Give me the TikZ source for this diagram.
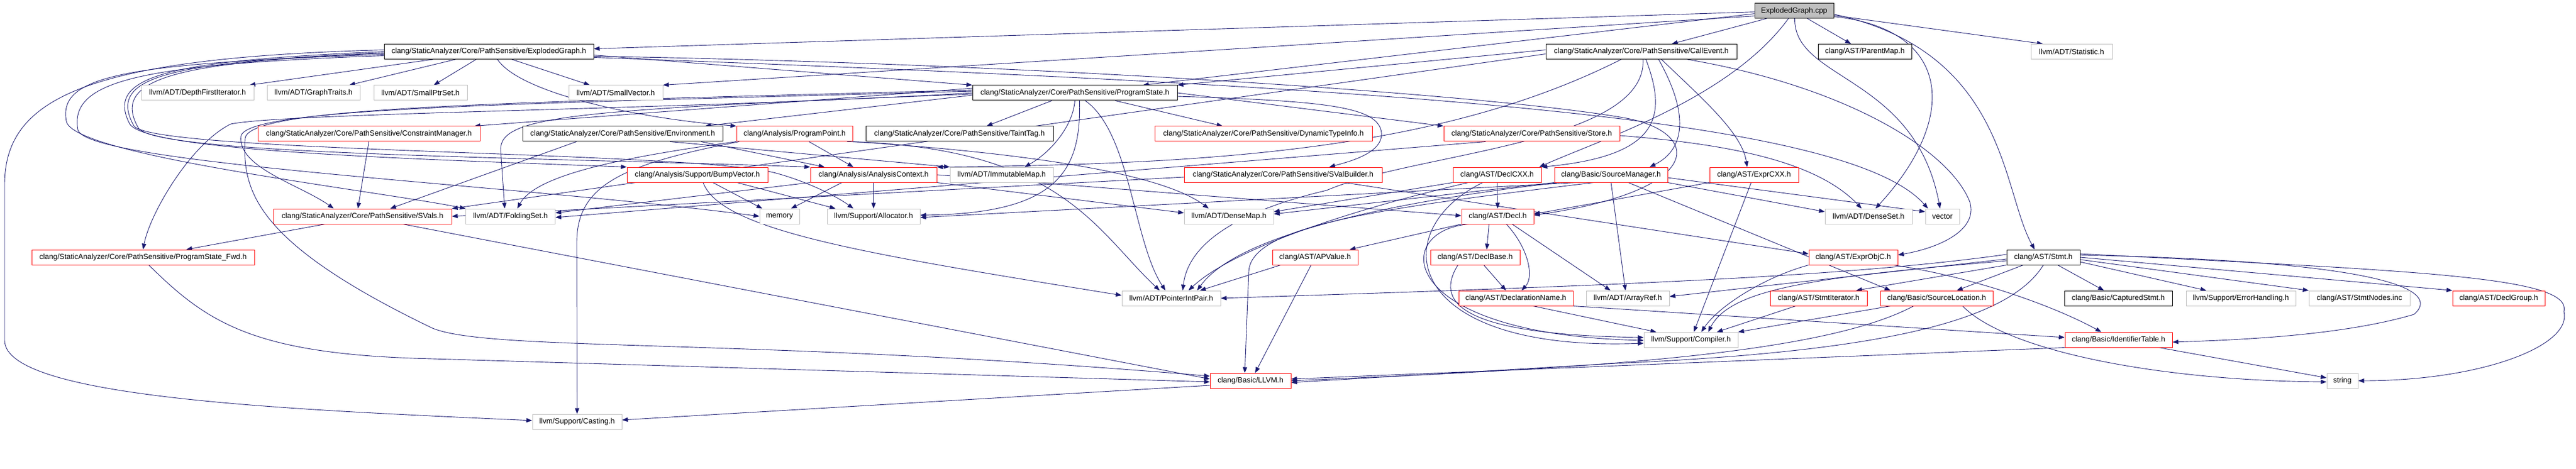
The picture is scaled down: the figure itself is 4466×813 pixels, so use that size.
\documentclass[tikz,border=0pt]{standalone}
\usepackage{fontspec}
\setmainfont{Liberation Sans}
\usetikzlibrary{arrows.meta,backgrounds}
\definecolor{edgeblue}{RGB}{25,25,112}
\definecolor{boxgrey}{RGB}{191,191,191}
\newcommand{\boxfont}{\fontsize{13}{15}\selectfont}
\tikzset{
  hdr/.style={draw=black,fill=white,line width=1pt,minimum height=26pt,inner sep=0pt,font=\boxfont},
  ext/.style={hdr,draw=boxgrey},
  trunc/.style={hdr,draw=red},
  root/.style={hdr,fill=boxgrey},
  inc/.style={draw=edgeblue,line width=0.9pt,-{Triangle[length=10pt,width=7.5pt]}},
}
\begin{document}
\begin{tikzpicture}[x=1pt,y=-1pt]
  \useasboundingbox (0,0) rectangle (4466,813);

  \node[root, minimum width=137pt](cpp)    at (3110.5,18.7) {ExplodedGraph.cpp};

  \node[hdr,  minimum width=363pt](egh)    at (847.5,89.5)  {clang/StaticAnalyzer/Core/PathSensitive/ExplodedGraph.h};
  \node[hdr,  minimum width=331pt](callev) at (2845.5,89.5) {clang/StaticAnalyzer/Core/PathSensitive/CallEvent.h};
  \node[hdr,  minimum width=162pt](pmap)   at (3233,89.5)   {clang/AST/ParentMap.h};
  \node[ext,  minimum width=141pt](stat)   at (3591.5,89.5) {llvm/ADT/Statistic.h};

  \node[ext,  minimum width=195pt](dfi)    at (342.5,161)   {llvm/ADT/DepthFirstIterator.h};
  \node[ext,  minimum width=161pt](gtr)    at (543.5,161)   {llvm/ADT/GraphTraits.h};
  \node[ext,  minimum width=162pt](sps)    at (729,161)     {llvm/ADT/SmallPtrSet.h};
  \node[ext,  minimum width=163pt](svec)   at (1067.5,161)  {llvm/ADT/SmallVector.h};
  \node[hdr,  minimum width=355pt](pst)    at (1863.5,161)  {clang/StaticAnalyzer/Core/PathSensitive/ProgramState.h};

  \node[trunc,minimum width=385pt](cmgr)   at (639.5,232)   {clang/StaticAnalyzer/Core/PathSensitive/ConstraintManager.h};
  \node[hdr,  minimum width=347pt](env)    at (1079.5,232)  {clang/StaticAnalyzer/Core/PathSensitive/Environment.h};
  \node[trunc,minimum width=201pt](ppt)    at (1377.5,232)  {clang/Analysis/ProgramPoint.h};
  \node[hdr,  minimum width=325pt](taint)  at (1663.5,232)  {clang/StaticAnalyzer/Core/PathSensitive/TaintTag.h};
  \node[trunc,minimum width=377pt](dti)    at (2190.5,232)  {clang/StaticAnalyzer/Core/PathSensitive/DynamicTypeInfo.h};
  \node[trunc,minimum width=305pt](store)  at (2655.5,232)  {clang/StaticAnalyzer/Core/PathSensitive/Store.h};

  \node[trunc,minimum width=244pt](bump)   at (1209,303)    {clang/Analysis/Support/BumpVector.h};
  \node[trunc,minimum width=219pt](actx)   at (1514.5,303)  {clang/Analysis/AnalysisContext.h};
  \node[ext,  minimum width=179pt](imap)   at (1736.5,303)  {llvm/ADT/ImmutableMap.h};
  \node[trunc,minimum width=343pt](svb)    at (2224.5,303)  {clang/StaticAnalyzer/Core/PathSensitive/SValBuilder.h};
  \node[trunc,minimum width=153pt](dcxx)   at (2595.5,303)  {clang/AST/DeclCXX.h};
  \node[trunc,minimum width=196pt](srcm)   at (2793,303)    {clang/Basic/SourceManager.h};
  \node[trunc,minimum width=154pt](ecxx)   at (3041,303)    {clang/AST/ExprCXX.h};

  \node[trunc,minimum width=309pt](svals)  at (628.5,375)   {clang/StaticAnalyzer/Core/PathSensitive/SVals.h};
  \node[ext,  minimum width=155pt](fset)   at (885,375)     {llvm/ADT/FoldingSet.h};
  \node[ext,  minimum width=69pt] (mem)    at (1351.5,375)  {memory};
  \node[ext,  minimum width=161pt](alloc)  at (1514.5,375)  {llvm/Support/Allocator.h};
  \node[ext,  minimum width=155pt](dmap)   at (2130.5,375)  {llvm/ADT/DenseMap.h};
  \node[trunc,minimum width=125pt](decl)   at (2596.5,375)  {clang/AST/Decl.h};
  \node[ext,  minimum width=151pt](dset)   at (3239.5,375)  {llvm/ADT/DenseSet.h};
  \node[ext,  minimum width=59pt] (vec)    at (3367.5,375)  {vector};

  \node[trunc,minimum width=386pt](psfwd)  at (248,446)     {clang/StaticAnalyzer/Core/PathSensitive/ProgramState\_Fwd.h};
  \node[trunc,minimum width=148pt](apv)    at (2280,446)    {clang/AST/APValue.h};
  \node[trunc,minimum width=155pt](dbase)  at (2557.5,446)  {clang/AST/DeclBase.h};
  \node[trunc,minimum width=154pt](eobjc)  at (3213,446)    {clang/AST/ExprObjC.h};
  \node[hdr,  minimum width=127pt](stmt)   at (3542.5,446)  {clang/AST/Stmt.h};

  \node[ext,  minimum width=171pt](pip)    at (2030.5,517)  {llvm/ADT/PointerIntPair.h};
  \node[trunc,minimum width=198pt](dname)  at (2628,517)    {clang/AST/DeclarationName.h};
  \node[ext,  minimum width=144pt](aref)   at (2822,517)    {llvm/ADT/ArrayRef.h};
  \node[trunc,minimum width=168pt](siter)  at (3153,517)    {clang/AST/StmtIterator.h};
  \node[trunc,minimum width=195pt](sloc)   at (3357.5,517)  {clang/Basic/SourceLocation.h};
  \node[hdr,  minimum width=187pt](capt)   at (3672.5,517)  {clang/Basic/CapturedStmt.h};
  \node[ext,  minimum width=190pt](errh)   at (3885,517)    {llvm/Support/ErrorHandling.h};
  \node[ext,  minimum width=175pt](snodes) at (4090.5,517)  {clang/AST/StmtNodes.inc};
  \node[trunc,minimum width=160pt](dgrp)   at (4332,517)    {clang/AST/DeclGroup.h};

  \node[ext,  minimum width=163pt](comp)   at (2931.5,589)  {llvm/Support/Compiler.h};
  \node[trunc,minimum width=186pt](itab)   at (3673,589)    {clang/Basic/IdentifierTable.h};

  \node[trunc,minimum width=140pt](llvmh)  at (2168,660)    {clang/Basic/LLVM.h};
  \node[ext,  minimum width=54pt] (str)    at (4061,660)    {string};

  \node[ext,  minimum width=155pt](cast)   at (1000.5,731)  {llvm/Support/Casting.h};

  \begin{pgfonlayer}{background}
  \draw[inc] ([yshift=-2pt]cpp.west) -- ([yshift=5pt]egh.east);
  \draw[inc] ([yshift=-5pt]cpp.west) -- ([xshift=118pt]pst.north);
  \draw[inc] ([yshift=-9pt]cpp.west) -- (svec.north east);
  \draw[inc] ([xshift=-48pt]cpp.south) -- ([xshift=53pt]callev.north);
  \draw[inc] ([xshift=23pt]cpp.south) -- ([xshift=-24pt]pmap.north);
  \draw[inc] ([yshift=-8pt]cpp.east) -- ([xshift=-50pt]stat.north);
  \draw[inc] ([xshift=1pt]cpp.south) .. controls (3110,140) and (3320,130) .. ([xshift=-4pt]vec.north);
  \draw[inc] ([yshift=-10pt]cpp.east) .. controls (3380,50) and (3400,200) .. ([xshift=12pt]dset.north);
  \draw[inc] ([yshift=-6pt]cpp.east) .. controls (3480,90) and (3470,330) .. ([xshift=-15pt]stmt.north);
  \draw[inc] ([xshift=-10pt]cpp.south) .. controls (3000,170) and (2780,240) .. ([xshift=-4pt]dcxx.north east);

  \draw[inc] ([yshift=3pt]egh.west) .. controls (150,100) and (8,170) .. (8,320) -- (8,590) .. controls (8,690) and (500,710) .. ([yshift=2pt]cast.west);
  \draw[inc] (egh.west) .. controls (300,105) and (180,130) .. (225,215) .. controls (255,262) and (700,275) .. (bump.north west);
  \draw[inc] ([yshift=-2pt]egh.west) .. controls (290,108) and (185,133) .. (232,218) .. controls (262,265) and (1200,262) .. (1345,300) .. controls (1400,315) and (1450,340) .. ([xshift=-35pt]alloc.north);
  \draw[inc] ([yshift=-3pt]egh.west) .. controls (310,107) and (190,135) .. (240,222) .. controls (270,268) and (900,272) .. (actx.north west);
  \draw[inc] ([yshift=-5pt]egh.west) .. controls (220,110) and (100,130) .. (115,210) .. controls (125,270) and (650,330) .. (fset.north west);
  \draw[inc] ([yshift=-7pt]egh.west) .. controls (240,112) and (120,140) .. (135,225) .. controls (150,285) and (900,320) .. (mem.west);
  \draw[inc] ([xshift=-97pt]egh.south) -- ([xshift=90pt]dfi.north);
  \draw[inc] ([xshift=-58pt]egh.south) -- ([xshift=62pt]gtr.north);
  \draw[inc] ([xshift=-22pt]egh.south) -- ([xshift=23pt]sps.north);
  \draw[inc] ([xshift=40pt]egh.south) -- ([xshift=-45pt]svec.north);
  \draw[inc] ([xshift=15pt]egh.south) .. controls (900,160) and (1100,205) .. (ppt.north west);
  \draw[inc] ([yshift=-6pt]egh.east) -- (pst.north west);
  \draw[inc] ([yshift=-8pt]egh.east) .. controls (1800,110) and (2600,165) .. (2820,205) .. controls (2950,230) and (2960,330) .. ([yshift=2pt]decl.east);
  \draw[inc] ([yshift=-10pt]egh.east) .. controls (2400,150) and (3200,200) .. ([xshift=-25pt]vec.north);

  \draw[inc] ([xshift=-40pt]pst.south) -- ([xshift=47pt]taint.north);
  \draw[inc] (pst.south) .. controls (1860,220) and (1820,265) .. ([xshift=40pt]imap.north);
  \draw[inc] ([xshift=8pt]pst.south) .. controls (1875,300) and (1830,370) .. ([yshift=2pt]alloc.east);
  \draw[inc] ([xshift=18pt]pst.south) .. controls (1960,230) and (1965,420) .. ([xshift=-10pt]pip.north);
  \draw[inc] ([xshift=70pt]pst.south) -- ([xshift=-71pt]dti.north);
  \draw[inc] (pst.east) -- (store.north west);
  \draw[inc] ([yshift=-6pt]pst.east) .. controls (2300,175) and (2390,185) .. (2395,230) .. controls (2398,265) and (2340,280) .. ([xshift=80pt]svb.north);
  \draw[inc] ([yshift=8pt]pst.west) -- ([xshift=-10pt]cmgr.north east);
  \draw[inc] ([yshift=-4pt]pst.west) -- ([xshift=143pt]env.north);
  \draw[inc] ([yshift=-2pt]pst.west) .. controls (1000,190) and (866,200) .. (868,260) -- ([xshift=-10pt]fset.north);
  \draw[inc] (pst.west) .. controls (1200,190) and (500,195) .. (400,215) .. controls (330,250) and (260,370) .. (psfwd.north);
  \draw[inc] ([yshift=5pt]pst.west) .. controls (900,178) and (430,183) .. (425,240) .. controls (420,330) and (440,420) .. (750,569) .. controls (850,610) and (1300,585) .. ([yshift=8pt]llvmh.west);
  \draw[inc] ([yshift=3pt]pst.west) .. controls (900,180) and (435,186) .. (418,235) .. controls (410,290) and (520,320) .. ([xshift=-50pt]svals.north);

  \draw[inc] ([xshift=-80pt]env.south) -- ([xshift=48pt]svals.north);
  \draw[inc] ([xshift=136pt]env.south) -- ([xshift=-85pt]actx.north);
  \draw[inc] ([xshift=82pt]env.south) -- (imap.north west);
  \draw[inc] (cmgr.south) -- ([xshift=-8pt]svals.north);
  \draw[inc] ([xshift=25pt]ppt.south) -- ([xshift=-35pt]actx.north);
  \draw[inc] (ppt.south west) .. controls (1100,270) and (930,300) .. ([xshift=12pt]fset.north);
  \draw[inc] ([xshift=5pt]ppt.south west) .. controls (1080,285) and (1000,320) .. (1000,420) -- (cast.north);
  \draw[inc] (ppt.south east) .. controls (1700,260) and (2000,290) .. ([xshift=-35pt]dmap.north);
  \draw[inc] ([xshift=-10pt]ppt.south east) .. controls (1840,255) and (1900,400) .. ([xshift=-20pt]pip.north);

  \draw[inc] (actx.south) -- (alloc.north);
  \draw[inc] ([xshift=-55pt]actx.south) -- ([xshift=20pt]mem.north);
  \draw[inc] (actx.south west) -- ([yshift=6pt]fset.east);
  \draw[inc] (actx.south east) -- ([yshift=6pt]dmap.west);
  \draw[inc] (actx.east) -- ([yshift=1pt]decl.west);
  \draw[inc] ([xshift=27pt]bump.south) -- ([xshift=-30pt]mem.north);
  \draw[inc] ([xshift=69pt]bump.south) -- ([xshift=-66pt]alloc.north);
  \draw[inc] ([xshift=10pt]bump.south) .. controls (1250,400) and (1500,440) .. ([yshift=5pt]pip.west);

  \draw[inc] ([xshift=-65pt]svals.south) -- ([xshift=75pt]psfwd.north);
  \draw[inc] ([xshift=70pt]svals.south) -- ([yshift=3pt]llvmh.west);
  \draw[inc] ([xshift=10pt]psfwd.south) .. controls (360,560) and (440,615) .. (750,622) -- ([yshift=-2pt]llvmh.west);
  \draw[inc] ([yshift=-8pt]llvmh.west) -- ([yshift=3pt]cast.east);

  \draw[inc] ([xshift=-80pt]store.south) -- ([yshift=-2pt]fset.east);
  \draw[inc] ([yshift=-3pt]store.east) .. controls (3000,250) and (3150,280) .. ([xshift=-12pt]dset.north);
  \draw[inc] ([xshift=107pt]svb.south) -- ([yshift=6pt]eobjc.west);
  \draw[inc] ([yshift=-4pt]svb.west) -- (svals.east);

  \draw[inc] ([yshift=3pt]callev.west) -- (pst.north east);
  \draw[inc] ([yshift=-4pt]callev.west) -- (svals.north east);
  \draw[inc] ([xshift=-35pt]callev.south) .. controls (2500,260) and (2100,285) .. (actx.north east);
  \draw[inc] ([xshift=3pt]callev.south) .. controls (2855,250) and (2450,265) .. (2300,330) .. controls (2150,365) and (2060,420) .. ([xshift=20pt]pip.north);
  \draw[inc] ([xshift=8pt]callev.south) .. controls (2890,200) and (2880,270) .. (dcxx.north east);
  \draw[inc] ([xshift=30pt]callev.south) .. controls (2930,200) and (2920,260) .. ([xshift=67pt]srcm.north);
  \draw[inc] ([xshift=35pt]callev.south) .. controls (2950,170) and (3020,230) .. ([xshift=-12pt]ecxx.north);
  \draw[inc] ([xshift=80pt]callev.south) .. controls (3200,150) and (3380,260) .. (3415,350) .. controls (3430,400) and (3360,430) .. ([yshift=4pt]eobjc.east);

  \draw[inc] (srcm.south) -- ([xshift=-4pt]aref.north);
  \draw[inc] ([xshift=30pt]srcm.south) -- ([xshift=-80pt]sloc.north);
  \draw[inc] ([yshift=-5pt]srcm.east) -- ([yshift=8pt]vec.west);
  \draw[inc] (srcm.south east) -- ([yshift=8pt]dset.west);
  \draw[inc] (srcm.south west) -- ([yshift=4pt]dmap.east);
  \draw[inc] ([xshift=-60pt]srcm.south) -- ([yshift=-2pt]alloc.east);
  \draw[inc] ([xshift=-90pt]srcm.south) .. controls (2450,345) and (2150,400) .. ([xshift=45pt]pip.north);
  \draw[inc] ([xshift=-30pt]srcm.south) .. controls (2400,360) and (2170,390) .. (2165,470) -- ([xshift=-10pt]llvmh.north);

  \draw[inc] (dcxx.south) -- (decl.north);
  \draw[inc] (dcxx.south west) -- ([yshift=8pt]dmap.east);
  \draw[inc] ([xshift=-50pt]dcxx.south) .. controls (2400,350) and (2150,420) .. ([xshift=30pt]pip.north);
  \draw[inc] ([xshift=-25pt]dcxx.south) .. controls (2400,400) and (2430,610) .. ([yshift=-6pt]comp.west);

  \draw[inc] ([xshift=-15pt]decl.south) -- ([xshift=20pt]dbase.north);
  \draw[inc] ([xshift=15pt]decl.south) .. controls (2650,430) and (2660,480) .. ([xshift=10pt]dname.north);
  \draw[inc] ([xshift=25pt]decl.south) -- ([xshift=-30pt]aref.north);
  \draw[inc] (decl.south west) -- ([xshift=60pt]apv.north);
  \draw[inc] ([xshift=-50pt]decl.south) .. controls (2410,400) and (2420,580) .. ([yshift=-1pt]comp.west);
  \draw[inc] ([xshift=15pt]dbase.south) -- ([xshift=-17pt]dname.north);
  \draw[inc] ([xshift=-30pt]dbase.south) .. controls (2490,520) and (2520,580) .. ([yshift=4pt]comp.west);
  \draw[inc] ([xshift=30pt]dname.south) -- ([xshift=-60pt]comp.north);
  \draw[inc] (dname.south east) -- ([yshift=4pt]itab.west);
  \draw[inc] ([xshift=-60pt]apv.south) -- ([xshift=50pt]pip.north);
  \draw[inc] ([xshift=-7pt]apv.south) -- ([xshift=8pt]llvmh.north);
  \draw[inc] ([xshift=-5pt]ecxx.south) -- ([xshift=5pt]comp.north);
  \draw[inc] (ecxx.south west) -- ([yshift=4pt]decl.east);
  \draw[inc] (eobjc.south west) .. controls (3060,480) and (2980,530) .. ([xshift=18pt]comp.north);
  \draw[inc] ([xshift=70pt]eobjc.south) .. controls (3420,480) and (3560,530) .. ([xshift=-30pt]itab.north);

  \draw[inc] (stmt.south west) -- ([xshift=65pt]siter.north);
  \draw[inc] ([xshift=-35pt]stmt.south) -- ([xshift=35pt]sloc.north);
  \draw[inc] ([xshift=25pt]stmt.south) -- ([xshift=-25pt]capt.north);
  \draw[inc] ([yshift=-8pt]stmt.east) -- ([xshift=-60pt]errh.north);
  \draw[inc] ([yshift=-4pt]stmt.east) -- (snodes.north west);
  \draw[inc] (stmt.east) -- (dgrp.north west);
  \draw[inc] ([yshift=4pt]stmt.east) .. controls (4230,455) and (4215,520) .. (4185,545) .. controls (4050,585) and (3850,590) .. ([yshift=-4pt]itab.east);
  \draw[inc] ([yshift=6pt]stmt.east) .. controls (4200,470) and (4460,480) .. (4445,540) .. controls (4460,600) and (4300,660) .. (str.east);
  \draw[inc] ([yshift=5pt]stmt.west) .. controls (3200,480) and (2800,495) .. (pip.east);
  \draw[inc] ([yshift=-3pt]stmt.west) -- ([yshift=3pt]aref.east);
  \draw[inc] ([yshift=-6pt]stmt.west) .. controls (3150,480) and (3000,500) .. ([xshift=30pt]comp.north);
  \draw[inc] (stmt.south) .. controls (3480,560) and (3250,610) .. (2800,630) -- ([yshift=-3pt]llvmh.east);

  \draw[inc] ([xshift=-40pt]siter.south) -- ([xshift=45pt]comp.north);
  \draw[inc] ([xshift=-80pt]sloc.south) -- (comp.north east);
  \draw[inc] ([xshift=-40pt]sloc.south) .. controls (3150,620) and (2700,640) .. (llvmh.east);
  \draw[inc] ([xshift=45pt]sloc.south) .. controls (3480,610) and (3750,660) .. ([yshift=-2pt]str.west);
  \draw[inc] (itab.south west) -- ([yshift=3pt]llvmh.east);
  \draw[inc] ([xshift=70pt]itab.south) -- ([yshift=5pt]str.west);
  \end{pgfonlayer}
\end{tikzpicture}
\end{document}
